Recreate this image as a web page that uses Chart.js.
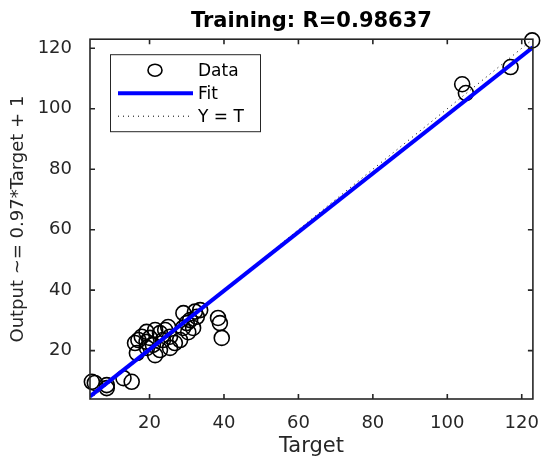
<!DOCTYPE html>
<html>
<head>
<meta charset="utf-8">
<script src="https://cdn.jsdelivr.net/npm/chart.js@4"></script>
<style>
  html, body { margin: 0; padding: 0; background: #fff; }
  #wrap { width: 542px; height: 459px; }
</style>
</head>
<body>
<div id="wrap"><canvas id="regression"></canvas></div>
<script>
const targets = [4.5, 5.3, 8.5, 8.5, 13.0, 15.2, 16.1, 16.6, 17.0, 17.9, 19.2, 20.1, 20.9, 21.5, 21.5,
  22.8, 23.6, 24.2, 25.5, 25.5, 26.8, 28.2, 29.1, 30.0, 30.9, 32.2, 32.7, 31.7, 29.0, 38.4, 38.9,
  39.4, 22.8, 19.2, 25.0, 33.6, 19.3, 30.4, 104, 105, 117, 122.8];
const outputs = [9.7, 9.3, 8.6, 7.6, 10.9, 9.7, 22.5, 19.2, 23.5, 24.6, 22.9, 24.2, 21.9, 18.5, 26.8,
  25.8, 23.5, 26.8, 24.6, 20.9, 22.5, 23.5, 32.4, 29.1, 30.1, 32.9, 31.2, 27.5, 27.5, 30.8, 29.1,
  24.2, 20.2, 26.2, 27.8, 33.4, 20.9, 26.1, 108.1, 105.2, 113.8, 122.6];
const tickValues = [20, 40, 60, 80, 100, 120];
const axisMin = 4;
const axisMax = 123;
const fitSlope = 0.97;
const fitOffset = 1;
const legendLabels = ["Data", "Fit", "Y = T"];

const FONT = "'DejaVu Sans', Verdana, sans-serif";
const INK = "#262626";

(() => {
  if (typeof Chart === "undefined") return;

  const canvas = document.getElementById("regression");
  if (!canvas) return;

  const points = targets.map((t, i) => ({ x: t, y: outputs[i] }));
  const fitLine = [axisMin, axisMax].map(t => ({ x: t, y: fitSlope * t + fitOffset }));
  const identity = [axisMin, axisMax].map(t => ({ x: t, y: t }));

  // box with inward ticks plus the legend drawn inside the plot, matlab style
  const matlabFrame = {
    id: "matlabFrame",
    afterDraw(chart) {
      const { ctx, chartArea: a, scales } = chart;
      const len = 5;
      ctx.save();
      ctx.strokeStyle = INK;
      ctx.lineWidth = 1.6;
      ctx.strokeRect(a.left, a.top, a.right - a.left, a.bottom - a.top);
      ctx.beginPath();
      scales.x.ticks.forEach(t => {
        const px = scales.x.getPixelForValue(t.value);
        ctx.moveTo(px, a.bottom); ctx.lineTo(px, a.bottom - len);
        ctx.moveTo(px, a.top); ctx.lineTo(px, a.top + len);
      });
      scales.y.ticks.forEach(t => {
        const py = scales.y.getPixelForValue(t.value);
        ctx.moveTo(a.left, py); ctx.lineTo(a.left + len, py);
        ctx.moveTo(a.right, py); ctx.lineTo(a.right - len, py);
      });
      ctx.stroke();

      // legend
      const bx = a.left + 20, by = a.top + 15, bw = 150, bh = 77;
      ctx.fillStyle = "#fff";
      ctx.fillRect(bx, by, bw, bh);
      ctx.lineWidth = 1;
      ctx.strokeStyle = INK;
      ctx.strokeRect(bx + 0.5, by + 0.5, bw, bh);
      const rows = [by + 16, by + 39, by + 62];
      const x0 = bx + 8, x1 = bx + 83;

      ctx.beginPath();
      ctx.lineWidth = 1.6;
      ctx.strokeStyle = "#000";
      ctx.ellipse(bx + 45, rows[0], 7, 6, 0, 0, Math.PI * 2);
      ctx.stroke();

      ctx.beginPath();
      ctx.lineWidth = 4;
      ctx.strokeStyle = "#0000ff";
      ctx.moveTo(x0, rows[1]); ctx.lineTo(x1, rows[1]);
      ctx.stroke();

      ctx.beginPath();
      ctx.lineWidth = 1;
      ctx.strokeStyle = "#000";
      ctx.setLineDash([1, 4]);
      ctx.moveTo(x0, rows[2]); ctx.lineTo(x1, rows[2]);
      ctx.stroke();
      ctx.setLineDash([]);

      ctx.fillStyle = "#000";
      ctx.font = "17px " + FONT;
      ctx.textBaseline = "middle";
      legendLabels.forEach((txt, i) => ctx.fillText(txt, x1 + 5, rows[i] + 1));
      ctx.restore();
    }
  };

  new Chart(canvas, {
    type: "scatter",
    data: {
      datasets: [
        {
          label: legendLabels[1],
          data: fitLine,
          type: "line",
          showLine: true,
          borderColor: "#0000ff",
          borderWidth: 4,
          pointRadius: 0,
          order: 0
        },
        {
          label: legendLabels[0],
          data: points,
          pointStyle: "circle",
          pointRadius: 7.5,
          pointBorderWidth: 1.6,
          pointBorderColor: "#000",
          pointBackgroundColor: "rgba(0,0,0,0)",
          clip: false,
          order: 1
        },
        {
          label: legendLabels[2],
          data: identity,
          type: "line",
          showLine: true,
          borderColor: "#000",
          borderWidth: 1,
          borderDash: [1, 4],
          pointRadius: 0,
          order: 2
        }
      ]
    },
    options: {
      responsive: true,
      maintainAspectRatio: false,
      animation: false,
      layout: { padding: { left: 0, right: 9, top: 0, bottom: 0 } },
      plugins: {
        legend: { display: false },
        tooltip: { enabled: false },
        title: {
          display: true,
          fullSize: false,
          text: "Training: R=0.98637",
          color: "#000",
          font: { family: FONT, size: 21, weight: "bold" },
          padding: { top: 9, bottom: 5 }
        }
      },
      scales: {
        x: {
          type: "linear",
          min: axisMin,
          max: axisMax,
          afterBuildTicks: axis => { axis.ticks = tickValues.map(v => ({ value: v })); },
          afterFit: scale => {
            scale.height = 60;
            scale.paddingLeft = 0;
            scale.paddingRight = 0;
          },
          grid: { display: false },
          border: { display: false },
          ticks: {
            color: INK,
            padding: 6,
            maxRotation: 0,
            font: { family: FONT, size: 18 }
          },
          title: {
            display: true,
            text: "Target",
            color: INK,
            font: { family: FONT, size: 21 },
            padding: { top: 6, bottom: 0 }
          }
        },
        y: {
          type: "linear",
          min: axisMin,
          max: axisMax,
          afterBuildTicks: axis => { axis.ticks = tickValues.map(v => ({ value: v })); },
          afterFit: scale => { scale.width = 90; },
          grid: { display: false },
          border: { display: false },
          ticks: {
            color: INK,
            padding: 10,
            font: { family: FONT, size: 18 }
          },
          title: {
            display: true,
            text: "Output ~= 0.97*Target + 1",
            color: INK,
            font: { family: FONT, size: 18 },
            padding: { top: 8, bottom: 10 }
          }
        }
      }
    },
    plugins: [matlabFrame]
  });
})();
</script>
</body>
</html>
